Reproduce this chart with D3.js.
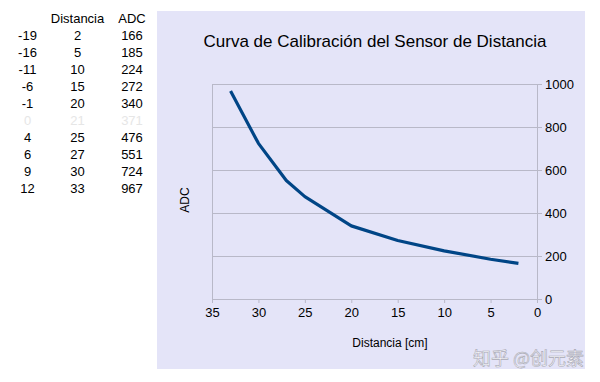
<!DOCTYPE html>
<html><head><meta charset="utf-8">
<script src="https://cdn.jsdelivr.net/npm/d3@7"></script>
<style>body{margin:0;background:#fff}svg{display:block}</style>
</head><body><svg id="c" width="600" height="382"></svg>
<script>
const offsets   = [-19, -16, -11, -6, -1, 0, 4, 6, 9, 12];
const distancia = [2, 5, 10, 15, 20, 21, 25, 27, 30, 33];
const adc       = [166, 185, 224, 272, 340, 371, 476, 551, 724, 967];
const excluded  = [false, false, false, false, false, true, false, false, false, false];
const xTicks = [35, 30, 25, 20, 15, 10, 5, 0];
const yTicks = [0, 200, 400, 600, 800, 1000];
const title = "Curva de Calibración del Sensor de Distancia";

const svg = d3.select("#c");
const font = "'Liberation Sans', Arial, sans-serif";

// table
const tbl = svg.append("g").attr("font-family", font).attr("font-size", 13).attr("fill", "#000");
const colX = [27.5, 77.5, 132];
const hy = 23;
tbl.append("text").attr("x", colX[1]).attr("y", hy).attr("text-anchor", "middle").text("Distancia");
tbl.append("text").attr("x", colX[2]).attr("y", hy).attr("text-anchor", "middle").text("ADC");
offsets.forEach((o, i) => {
  const yy = hy + 17 * (i + 1);
  const col = excluded[i] ? "#e6e6e6" : "#000";
  [o, distancia[i], adc[i]].forEach((v, j) => {
    tbl.append("text").attr("x", colX[j]).attr("y", yy).attr("text-anchor", "middle").attr("fill", col).text(v);
  });
});

// panel
svg.append("rect").attr("x", 157).attr("y", 11).attr("width", 428).attr("height", 358).attr("fill", "#e4e4f8");

const L = 212, R = 537, T = 84, B = 299;
const x = d3.scaleLinear().domain([35, 0]).range([L, R]);
const y = d3.scaleLinear().domain([0, 1000]).range([B, T]);

// gridlines
svg.append("g").selectAll("line").data(yTicks).join("line")
  .attr("x1", L).attr("x2", R).attr("y1", d => y(d)).attr("y2", d => y(d))
  .attr("stroke", "#b8b8c8").attr("stroke-width", 1).attr("shape-rendering", "crispEdges");
svg.append("line").attr("x1", L).attr("x2", L).attr("y1", T).attr("y2", B)
  .attr("stroke", "#b8b8c8").attr("shape-rendering", "crispEdges");

// axes
const xAxis = svg.append("g").attr("transform", `translate(0,${B})`)
  .call(d3.axisBottom(x).tickValues(xTicks).tickFormat(d3.format("d")).tickSize(4).tickPadding(5));
const yAxis = svg.append("g").attr("transform", `translate(${R},0)`)
  .call(d3.axisRight(y).tickValues(yTicks).tickFormat(d3.format("d")).tickSize(5).tickPadding(3));
[xAxis, yAxis].forEach(a => {
  a.select(".domain").attr("stroke", "#b8b8c8");
  a.selectAll(".tick line").attr("stroke", "#b8b8c8");
  a.selectAll("text").attr("font-family", font).attr("font-size", 13).attr("fill", "#000");
});

// line
const pts = distancia.map((d, i) => ({d, v: adc[i], ex: excluded[i]})).filter(p => !p.ex);
svg.append("path").datum(pts)
  .attr("d", d3.line().x(p => x(p.d)).y(p => y(p.v)))
  .attr("fill", "none").attr("stroke", "#004586").attr("stroke-width", 3.2)
  .attr("stroke-linejoin", "round");

// title & labels
svg.append("text").attr("x", 375).attr("y", 47).attr("text-anchor", "middle")
  .attr("font-family", font).attr("font-size", 17).attr("fill", "#000").text(title);
svg.append("text").attr("x", 390).attr("y", 347).attr("text-anchor", "middle")
  .attr("font-family", font).attr("font-size", 12).attr("fill", "#000").text("Distancia [cm]");
svg.append("text").attr("transform", "translate(189,200) rotate(-90)").attr("text-anchor", "middle")
  .attr("font-family", font).attr("font-size", 12).attr("fill", "#000").text("ADC");

// watermark
svg.append("text").attr("x", 584).attr("y", 365).attr("text-anchor", "end")
  .attr("font-family", "'Noto Sans CJK SC', sans-serif").attr("font-size", 18)
  .attr("fill", "#ffffff").attr("fill-opacity", 0.85).attr("stroke", "#a8a8b4").attr("stroke-width", 0.6)
  .text("知乎 @创元素");
</script></body></html>
